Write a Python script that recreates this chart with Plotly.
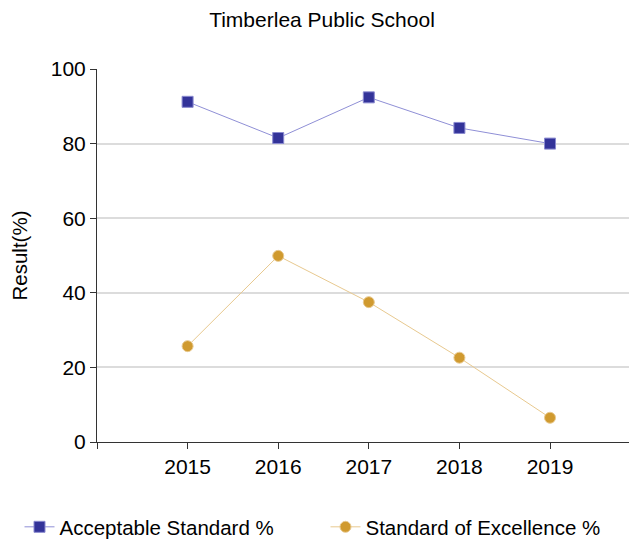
import plotly.graph_objects as go

years = [2015, 2016, 2017, 2018, 2019]
acceptable = [91.2, 81.5, 92.4, 84.2, 80.0]
excellence = [25.7, 49.9, 37.5, 22.6, 6.5]
x_tick_vals = [2014, 2015, 2016, 2017, 2018, 2019]
x_tick_text = ["", "2015", "2016", "2017", "2018", "2019"]
y_tick_vals = [0, 20, 40, 60, 80, 100]

FONT = "Liberation Sans, Arial, sans-serif"
W, H = 629, 532  # page body has an 8px margin

fig = go.Figure()
fig.add_trace(go.Scatter(
    x=years, y=acceptable, name="Acceptable Standard %", mode="lines+markers",
    line=dict(color="#8f8fd6", width=1),
    marker=dict(symbol="square", size=11, color="#333399",
                line=dict(color="#8a8ad0", width=1)),
    legend="legend",
))
fig.add_trace(go.Scatter(
    x=years, y=excellence, name="Standard of Excellence %", mode="lines+markers",
    line=dict(color="#e8c98f", width=1),
    marker=dict(symbol="circle", size=11, color="#d09a2f",
                line=dict(color="#e8c98f", width=1)),
    legend="legend2",
))

leg_common = dict(orientation="h", xref="container", yref="container",
                  xanchor="left", y=1 - 519 / H, yanchor="middle",
                  font=dict(size=20.5, color="#000"), itemwidth=30,
                  bgcolor="rgba(0,0,0,0)")

fig.update_layout(
    width=W, height=H,
    margin=dict(l=89, r=0, t=61, b=98, autoexpand=False),
    paper_bgcolor="white", plot_bgcolor="white",
    font=dict(family=FONT, size=20.5, color="#000"),
    title=dict(text="Timberlea Public School", xref="container", x=314 / W, xanchor="center",
               yref="container", y=1 - 12 / H, yanchor="middle",
               font=dict(size=21, color="#000")),
    showlegend=True,
    legend=dict(x=11.5 / W, **leg_common),
    legend2=dict(x=317.5 / W, **leg_common),
)
fig.update_xaxes(
    range=[2014, 2019.96], tickvals=x_tick_vals, ticktext=x_tick_text,
    showgrid=False, zeroline=False, showline=True, linecolor="#333", linewidth=1,
    ticks="outside", ticklen=6, tickcolor="#333", automargin=False,
    tickfont=dict(size=21),
)
fig.update_yaxes(
    range=[0, 100], tickvals=y_tick_vals,
    showgrid=True, gridcolor="#dcdcdc", gridwidth=2, zeroline=False,
    showline=True, linecolor="#333", linewidth=1,
    ticks="outside", ticklen=6, tickcolor="#333", automargin=False,
    tickfont=dict(size=21),
    title=dict(text="Result(%)", font=dict(size=20.5), standoff=25),
)

fig.write_html("out.html")
